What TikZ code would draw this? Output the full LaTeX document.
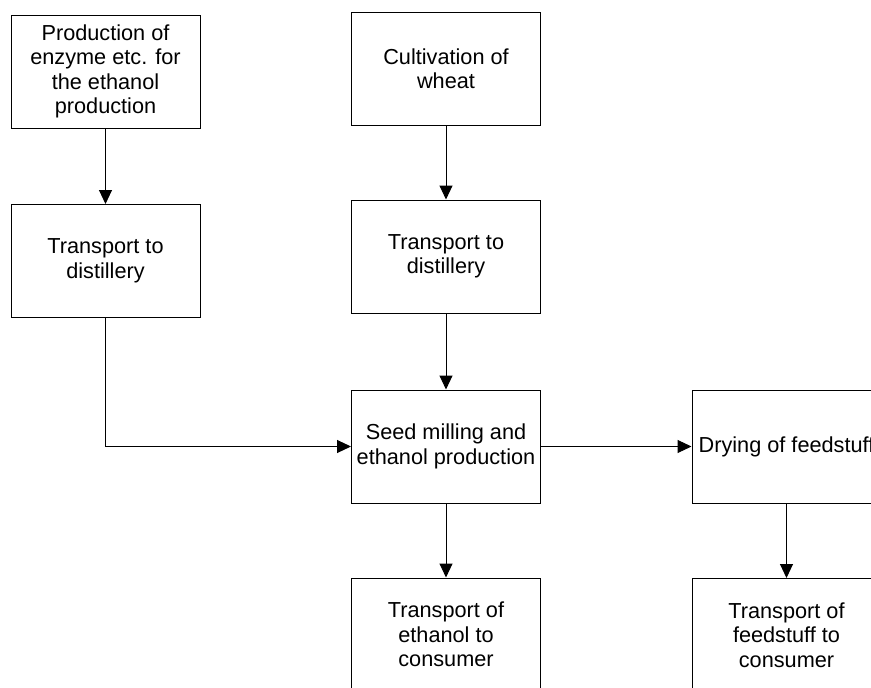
\documentclass[tikz,border=0pt]{standalone}
\usepackage{fontspec}
\setmainfont{Liberation Sans}
\usetikzlibrary{arrows.meta}
\begin{document}
\begin{tikzpicture}[x=1pt, y=-1pt,
  procbox/.style={draw=black, line width=1pt, fill=white,
    minimum width=189pt, minimum height=113pt, inner sep=0pt,
    align=center, font=\fontsize{21.7}{24.5}\selectfont},
  flow/.style={draw=black, line width=1pt,
    -{Triangle[length=14pt, width=13pt]}}]
  \useasboundingbox (0,0) rectangle (871,688);
  \clip (0,0) rectangle (871,688);

  % process boxes
  \node[procbox] (enzyme)  at (105.5, 71.5) {Production of\\enzyme etc. for\\the ethanol\\production};
  \node[procbox] (transA)  at (105.5, 261)  {Transport to\\distillery};
  \node[procbox] (wheat)   at (446, 68.5)   {Cultivation of\\wheat};
  \node[procbox] (transB)  at (446, 256.5)  {Transport to\\distillery};
  \node[procbox] (milling) at (446, 446.5)  {Seed milling and\\ethanol production};
  \node[procbox] (drying)  at (786.5, 446.5) {Drying of feedstuff};
  \node[procbox] (ethcons) at (446, 634.5)  {Transport of\\ethanol to\\consumer};
  \node[procbox] (feedcons) at (786.5, 635) {Transport of\\feedstuff to\\consumer};

  % material flows
  \draw[flow] (enzyme) -- (transA);
  \draw[flow] (wheat) -- (transB);
  \draw[flow] (transB) -- (milling);
  \draw[flow] (transA.south) |- (milling.west);
  \draw[flow] (milling) -- (drying);
  \draw[flow] (milling) -- (ethcons);
  \draw[flow] (drying) -- (feedcons);
\end{tikzpicture}
\end{document}
